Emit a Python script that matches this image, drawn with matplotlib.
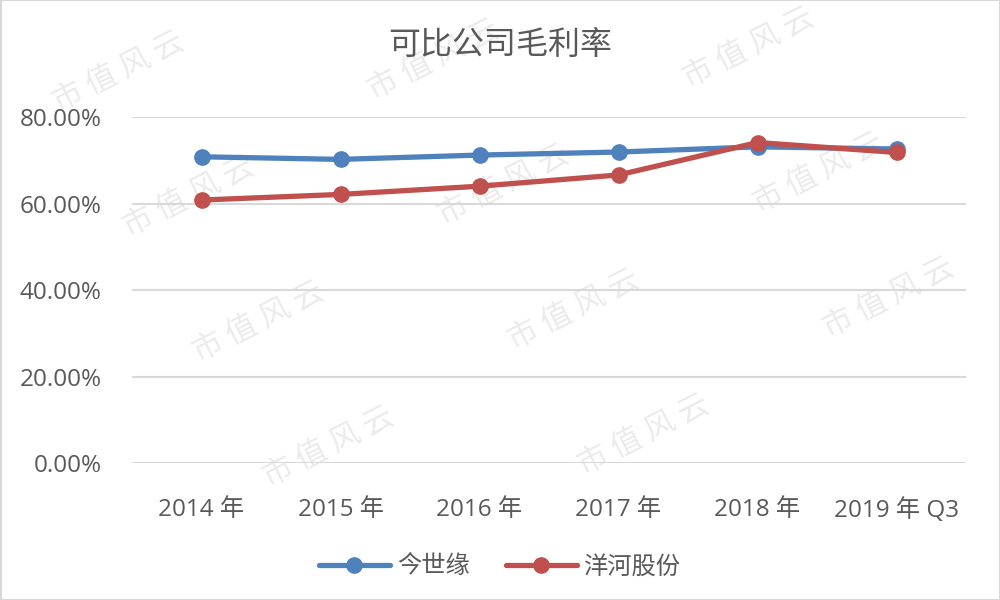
import matplotlib
matplotlib.use("Agg")
import matplotlib.pyplot as plt
from matplotlib.patches import Rectangle
from matplotlib.ticker import FuncFormatter

plt.rcParams['font.family'] = ['Open Sans', 'Noto Sans CJK SC', 'DejaVu Sans']

categories = ["2014 年", "2015 年", "2016 年", "2017 年", "2018 年", "2019 年 Q3"]
jinshiyuan = [0.708, 0.702, 0.712, 0.719, 0.731, 0.726]
yanghe = [0.608, 0.621, 0.640, 0.666, 0.741, 0.718]
series_names = ["今世缘", "洋河股份"]
title = "可比公司毛利率"
watermark = "市 值 风 云"

text_color = "#595959"
grid_color = "#d9d9d9"
blue = "#4f81bd"
red = "#c0504d"

fig = plt.figure(figsize=(10, 6), dpi=100)
fig.patch.set_facecolor("white")

# watermark lattice (only copies that fit inside the picture)
for j in range(-1, 6):
    for i in range(-1, 5):
        x = 118 + i * 315 + j * 70
        y = 72 - i * 12 + j * 125
        if 85 < x < 915 and 45 < y < 555:
            fig.text(x / 1000, 1 - y / 600, watermark, fontsize=22, color="#ebebeb",
                     rotation=27, ha="center", va="center", zorder=-5,
                     family=['Noto Sans CJK SC'], fontweight='light')

ax = fig.add_axes([0.132, 137 / 600, 0.834, 346 / 600])
ax.set_facecolor("none")
xs = list(range(len(categories)))
ax.plot(xs, jinshiyuan, color=blue, lw=3.8, marker="o", ms=11, label=series_names[0],
        solid_capstyle="round", clip_on=False, zorder=3)
ax.plot(xs, yanghe, color=red, lw=3.8, marker="o", ms=11, label=series_names[1],
        solid_capstyle="round", clip_on=False, zorder=4)

ax.set_xlim(-0.5, len(categories) - 0.5)
ax.set_ylim(0, 0.8)
ax.set_yticks([0, 0.2, 0.4, 0.6, 0.8])
ax.yaxis.set_major_formatter(FuncFormatter(lambda v, p: f"{v*100:.2f}%"))
ax.set_xticks(xs)
ax.set_xticklabels(categories)
ax.grid(axis="y", color=grid_color, lw=1.5, zorder=0)
ax.set_axisbelow(True)
for s in ax.spines.values():
    s.set_visible(False)
ax.tick_params(axis="both", length=0, labelsize=17.5, labelcolor=text_color)
ax.tick_params(axis="y", pad=22)
ax.tick_params(axis="x", pad=25)

fig.text(0.5, 1 - 45 / 600, title, ha="center", va="center", fontsize=23, color=text_color,
         family=['Noto Sans CJK SC'])

leg = fig.legend(loc="center", bbox_to_anchor=(0.5, 1 - 567 / 600), ncol=2, frameon=False,
                 labelcolor=text_color, handlelength=2.9, columnspacing=1.5,
                 handletextpad=0.3, prop={'family': ['Noto Sans CJK SC'], 'size': 17.5})

fig.add_artist(Rectangle((0.0005, 0.0008), 0.999, 0.9984, transform=fig.transFigure,
                         fill=False, edgecolor="#d9d9d9", lw=1.5))

fig.savefig("out.png", dpi=100)
